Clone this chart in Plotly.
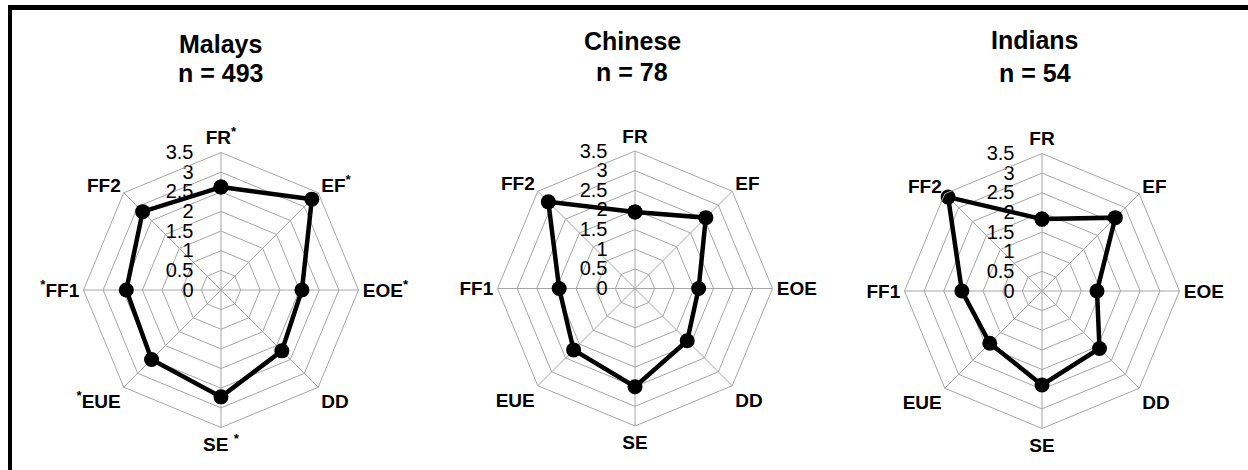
import plotly.graph_objects as go

categories = ["FR", "EF", "EOE", "DD", "SE", "EUE", "FF1", "FF2"]
malays_labels = ["FR<sup>*</sup>", "EF<sup>*</sup>", "EOE<sup>*</sup>", "DD",
                 "SE <sup>*</sup>", "<sup>*</sup>EUE", "<sup>*</sup>FF1", "FF2"]
plain_labels = categories

malays = [2.62, 3.27, 2.06, 2.19, 2.72, 2.50, 2.41, 2.82]
chinese = [1.95, 2.55, 1.62, 1.88, 2.50, 2.21, 1.93, 3.12]
indians = [1.83, 2.64, 1.40, 2.07, 2.39, 1.88, 2.04, 3.38]

radial_ticks = [0, 0.5, 1, 1.5, 2, 2.5, 3, 3.5]
radial_text = ["0", "0.5", "1", "1.5", "2", "2.5", "3", "3.5"]

groups = ["Malays", "Chinese", "Indians"]
counts = ["n = 493", "n = 78", "n = 54"]

W, H = 1248, 470
R = 137.5
centers = [(221, 290), (635, 288.5), (1042, 291)]
title_pos = [(220, 44, 73), (632, 41, 72), (1035, 40, 72.5)]

FONT = "Liberation Sans, Arial, sans-serif"
GRID = "#a6a6a6"

fig = go.Figure()
series = [malays, chinese, indians]
labels = [malays_labels, plain_labels, plain_labels]

for i, vals in enumerate(series):
    pname = "polar" if i == 0 else f"polar{i+1}"
    fig.add_trace(go.Scatterpolar(
        r=vals + [vals[0]],
        theta=categories + [categories[0]],
        mode="lines+markers",
        line=dict(color="black", width=4.5),
        marker=dict(color="black", size=15),
        subplot=pname,
        showlegend=False,
        hoverinfo="skip",
    ))
    cx, cy = centers[i]
    dom_x = [(cx - R) / W, (cx + R) / W]
    dom_y = [(H - cy - R) / H, (H - cy + R) / H]
    fig.update_layout(**{pname: dict(
        domain=dict(x=dom_x, y=dom_y),
        gridshape="linear",
        bgcolor="white",
        angularaxis=dict(
            categoryorder="array", categoryarray=categories,
            rotation=90, direction="clockwise",
            tickmode="array", tickvals=categories, ticktext=labels[i],
            tickfont=dict(family=FONT, size=19, color="black", weight="bold"),
            showline=True, linecolor=GRID, linewidth=1,
            gridcolor=GRID, gridwidth=1, ticks="",
        ),
        radialaxis=dict(
            range=[0, 3.5], angle=90, tickangle=90,
            tickmode="array", tickvals=radial_ticks, ticktext=radial_text,
            tickfont=dict(family=FONT, size=20, color="black"),
            showline=False, gridcolor=GRID, gridwidth=1,
            ticks="outside", ticklen=20, tickcolor="rgba(0,0,0,0)",
            side="counterclockwise", layer="below traces",
        ),
    )})
    tx, ty1, ty2 = title_pos[i]
    fig.add_annotation(x=tx / W, y=1 - ty1 / H, xref="paper", yref="paper",
                       text=f"<b>{groups[i]}</b>", showarrow=False,
                       xanchor="center", yanchor="middle",
                       font=dict(family=FONT, size=25, color="black"))
    fig.add_annotation(x=tx / W, y=1 - ty2 / H, xref="paper", yref="paper",
                       text=f"<b>{counts[i]}</b>", showarrow=False,
                       xanchor="center", yanchor="middle",
                       font=dict(family=FONT, size=25, color="black"))

# outer frame (top and left edges visible)
fig.add_shape(type="line", xref="paper", yref="paper",
              x0=8 / W, x1=1.02, y0=1 - 7.5 / H, y1=1 - 7.5 / H,
              line=dict(color="black", width=5))
fig.add_shape(type="line", xref="paper", yref="paper",
              x0=10 / W, x1=10 / W, y0=-0.02, y1=1 - 5 / H,
              line=dict(color="black", width=4))

fig.update_layout(
    width=W, height=H,
    margin=dict(l=0, r=0, t=0, b=0),
    paper_bgcolor="white",
    plot_bgcolor="white",
    font=dict(family=FONT, color="black"),
)

fig.write_html("out.html")
